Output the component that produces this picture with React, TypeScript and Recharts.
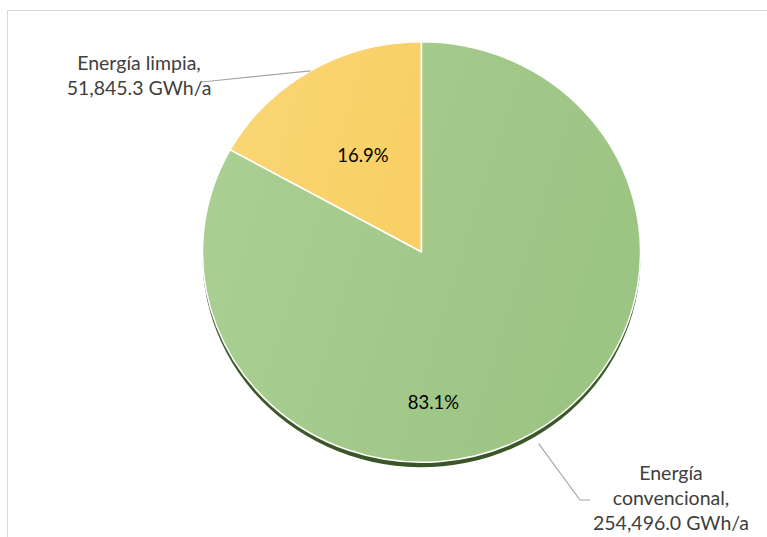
import React from 'react';
import { PieChart, Pie, Cell } from 'recharts';

// ---- data ----
const categories: string[] = ['Energía limpia', 'Energía convencional'];
const values: number[] = [51845.3, 254496.0];
const unit = 'GWh/a';
const sliceColors: string[] = ['url(#gradYellow)', 'url(#gradGreen)'];

const data = categories.map((name, i) => ({ name, value: values[i] }));

// ---- styling / layout (not data) ----
const FONT = 'Lato, "Open Sans", "Noto Sans", sans-serif';
const RY_RATIO = 0.96;
const LINE_H = 25;
const labelLayout = [
  {
    inner: [-58.5, -97],
    textX: -282.5,
    textY: -182,
    startExtra: 0,
    lead: [[-219.5, -170]],
  },
  {
    inner: [12, 150],
    textX: 249.5,
    textY: 228,
    startExtra: 12,
    lead: [[158.5, 248], [168.5, 248]],
  },
];

const fmt = (v: number) =>
  v.toLocaleString('en-US', { minimumFractionDigits: 1, maximumFractionDigits: 1 });

const wrap = (text: string, maxChars: number): string[] => {
  const words = text.split(' ');
  const lines: string[] = [];
  let cur = '';
  words.forEach((w) => {
    const next = cur ? cur + ' ' + w : w;
    if (next.length > maxChars && cur) {
      lines.push(cur);
      cur = w;
    } else cur = next;
  });
  if (cur) lines.push(cur);
  return lines;
};

const RAD = Math.PI / 180;

const EllipseSector = (props: any) => {
  const { cx, cy, outerRadius, startAngle, endAngle, fill } = props;
  const rx = outerRadius;
  const ry = outerRadius * RY_RATIO;
  const pt = (a: number, dy: number) => [cx + rx * Math.cos(a * RAD), cy - ry * Math.sin(a * RAD) + dy];
  const path = (dy: number) => {
    const [x1, y1] = pt(startAngle, dy);
    const [x2, y2] = pt(endAngle, dy);
    const large = Math.abs(endAngle - startAngle) > 180 ? 1 : 0;
    const sweep = startAngle > endAngle ? 1 : 0;
    return `M${cx},${cy + dy} L${x1},${y1} A${rx},${ry} 0 ${large} ${sweep} ${x2},${y2} Z`;
  };
  return (
    <g>
      <path d={path(5)} fill="url(#gradShadow)" />
      <path d={path(0)} fill={fill} stroke="#ffffff" strokeWidth={1.5} strokeLinejoin="round" />
    </g>
  );
};

const renderLabel = (props: any) => {
  const { cx, cy, midAngle, outerRadius, percent, index, name, value } = props;
  const L = labelLayout[index];
  const rx = outerRadius;
  const ry = outerRadius * RY_RATIO;
  const sx = cx + (rx + L.startExtra) * Math.cos(midAngle * RAD);
  const sy = cy - (ry + L.startExtra) * Math.sin(midAngle * RAD);
  const pts = [[sx, sy], ...L.lead.map(([dx, dy]) => [cx + dx, cy + dy])];
  const lines = [...wrap(name + ',', 16), `${fmt(value)} ${unit}`];
  return (
    <g>
      <polyline
        points={pts.map((p) => p.join(',')).join(' ')}
        fill="none"
        stroke="#A6A6A6"
        strokeWidth={1.2}
      />
      <text
        x={cx + L.inner[0]}
        y={cy + L.inner[1]}
        textAnchor="middle"
        dominantBaseline="central"
        fill="#000000"
        fontSize={18.5}
        fontFamily={FONT}
      >
        {`${(percent * 100).toFixed(1)}%`}
      </text>
      <text textAnchor="middle" fill="#404040" fontSize={19.5} fontFamily={FONT}>
        {lines.map((ln, i) => (
          <tspan key={i} x={cx + L.textX} y={cy + L.textY + i * LINE_H}>
            {ln}
          </tspan>
        ))}
      </text>
    </g>
  );
};

export default function App() {
  return (
    <div
      style={{
        position: 'absolute',
        left: 0,
        top: 0,
        width: 767,
        height: 537,
        overflow: 'hidden',
        background: '#ffffff',
      }}
    >
      <div
        style={{
          position: 'absolute',
          left: 7,
          top: 10,
          width: 900,
          height: 700,
          borderLeft: '1px solid #D9D9D9',
          borderTop: '1px solid #D9D9D9',
        }}
      />
      <div style={{ position: 'absolute', left: 0, top: 0 }}>
        <PieChart width={767} height={537} margin={{ top: 0, right: 0, bottom: 0, left: 0 }}>
          <defs>
            <linearGradient id="gradGreen" x1="0" y1="0" x2="1" y2="0.3">
              <stop offset="0%" stopColor="#ABD094" />
              <stop offset="100%" stopColor="#9CC483" />
            </linearGradient>
            <linearGradient id="gradYellow" x1="0" y1="0" x2="1" y2="0.3">
              <stop offset="0%" stopColor="#FAD676" />
              <stop offset="100%" stopColor="#F8D065" />
            </linearGradient>
            <linearGradient id="gradShadow" x1="0" y1="0" x2="0" y2="1">
              <stop offset="0%" stopColor="#4D6E39" />
              <stop offset="100%" stopColor="#3A5628" />
            </linearGradient>
          </defs>
          <Pie
            data={data}
            dataKey="value"
            nameKey="name"
            cx={421.5}
            cy={252}
            outerRadius={219}
            startAngle={90}
            endAngle={450}
            stroke="#ffffff"
            strokeWidth={1.5}
            shape={EllipseSector}
            label={renderLabel}
            labelLine={false}
            isAnimationActive={false}
          >
            {data.map((d, i) => (
              <Cell key={d.name} fill={sliceColors[i]} />
            ))}
          </Pie>
        </PieChart>
      </div>
    </div>
  );
}
